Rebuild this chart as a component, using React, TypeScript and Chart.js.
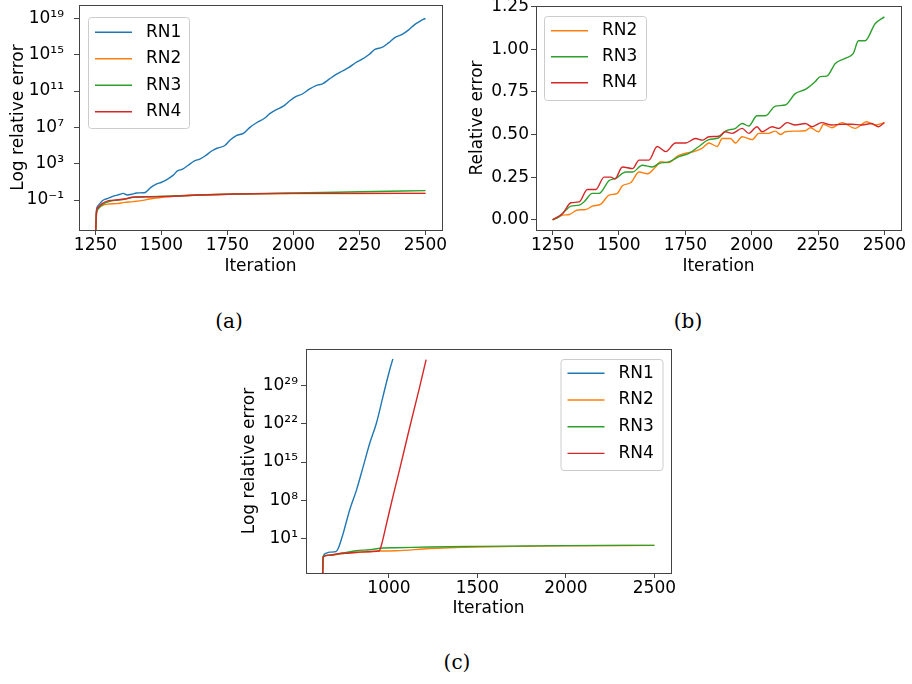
import React, { useEffect, useRef } from 'react';
import { Chart, registerables } from 'chart.js';

Chart.register(...registerables);

const FONT = "'DejaVu Sans', sans-serif";
const SERIES = ['RN1', 'RN2', 'RN3', 'RN4'];
const COLORS = ['#1f77b4', '#ff7f0e', '#2ca02c', '#d62728'];
const X_TITLE = 'Iteration';

// ---------- (a) log relative error, iterations 1250..2500 ----------
const A_X_TICKS = [1250, 1500, 1750, 2000, 2250, 2500];
const A_Y_TICKS = [1e-1, 1e3, 1e7, 1e11, 1e15, 1e19];
const A_Y_TICK_LABELS = ['10⁻¹', '10³', '10⁷', '10¹¹', '10¹⁵', '10¹⁹'];
const A_RN1_X = [1250, 1253, 1258, 1266, 1280, 1300, 1320, 1340, 1355, 1370, 1390, 1405, 1435, 1460, 1480, 1500, 1520, 1545, 1560, 1580, 1600, 1625, 1645, 1665, 1690, 1710, 1740, 1760, 1785, 1810, 1835, 1860, 1890, 1910, 1935, 1960, 1985, 2010, 2035, 2060, 2085, 2110, 2135, 2160, 2185, 2210, 2235, 2260, 2285, 2310, 2335, 2360, 2385, 2410, 2435, 2460, 2480, 2500];
const A_RN1_Y = [1e-5, 5e-3, 2e-2, 4e-2, 0.1, 0.16, 0.28, 0.4, 0.54, 0.36, 0.45, 0.6, 0.63, 2.5, 5.5, 9, 18, 55, 160, 250, 630, 2000, 3200, 7000, 2.5e4, 5e4, 1e5, 4e5, 1.3e6, 2.2e6, 1e7, 3.2e7, 1e8, 3.2e8, 9e8, 2e9, 8e9, 2.5e10, 5e10, 1.6e11, 4e11, 6.3e11, 2e12, 6.3e12, 1.6e13, 4e13, 1.3e14, 3.2e14, 1e15, 4e15, 6.3e15, 2e16, 8e16, 1.6e17, 5e17, 2.2e18, 5e18, 1e19];
const A_RN2_X = [1250, 1254, 1260, 1275, 1300, 1330, 1360, 1392, 1430, 1455, 1490, 1518, 1560, 1600, 1700, 1800, 2000, 2250, 2500];
const A_RN2_Y = [1e-5, 5e-3, 1.3e-2, 2.5e-2, 3.6e-2, 4e-2, 5.5e-2, 6.6e-2, 9e-2, 0.13, 0.18, 0.23, 0.3, 0.33, 0.4, 0.45, 0.5, 0.52, 0.54];
const A_RN3_X = [1250, 1254, 1260, 1275, 1300, 1330, 1360, 1392, 1455, 1518, 1644, 1800, 2000, 2250, 2500];
const A_RN3_Y = [1e-5, 3e-3, 1e-2, 3e-2, 6.6e-2, 0.1, 0.12, 0.2, 0.23, 0.26, 0.35, 0.46, 0.6, 0.8, 1.07];
const A_RN4_X = [1250, 1254, 1260, 1275, 1300, 1330, 1360, 1392, 1455, 1518, 1644, 1770, 2000, 2500];
const A_RN4_Y = [1e-5, 6e-3, 1.6e-2, 4e-2, 8.5e-2, 0.1, 0.13, 0.2, 0.23, 0.24, 0.35, 0.46, 0.54, 0.54];

// ---------- (b) relative error, iterations 1250..2500 ----------
const B_X_TICKS = [1250, 1500, 1750, 2000, 2250, 2500];
const B_Y_TICKS = [0, 0.25, 0.5, 0.75, 1.0, 1.25];
const B_RN2_X = [1250, 1288, 1313, 1344, 1375, 1400, 1432, 1463, 1494, 1513, 1544, 1576, 1607, 1638, 1657, 1688, 1720, 1751, 1782, 1814, 1839, 1870, 1889, 1920, 1939, 1964, 2002, 2027, 2064, 2089, 2108, 2127, 2164, 2202, 2221, 2252, 2271, 2302, 2340, 2390, 2433, 2465, 2500];
const B_RN2_Y = [0, 0.027, 0.031, 0.057, 0.06, 0.08, 0.092, 0.145, 0.155, 0.2, 0.217, 0.28, 0.27, 0.31, 0.34, 0.335, 0.374, 0.39, 0.4, 0.42, 0.45, 0.43, 0.477, 0.477, 0.45, 0.487, 0.47, 0.507, 0.507, 0.52, 0.5, 0.516, 0.52, 0.522, 0.54, 0.516, 0.56, 0.54, 0.57, 0.536, 0.575, 0.556, 0.57];
const B_RN3_X = [1250, 1275, 1300, 1319, 1350, 1369, 1400, 1425, 1463, 1488, 1526, 1551, 1588, 1626, 1651, 1688, 1726, 1764, 1801, 1839, 1876, 1901, 1939, 1964, 1989, 2020, 2052, 2089, 2127, 2164, 2202, 2239, 2258, 2283, 2315, 2352, 2383, 2402, 2427, 2465, 2500];
const B_RN3_Y = [0, 0.018, 0.057, 0.08, 0.086, 0.106, 0.155, 0.155, 0.23, 0.243, 0.28, 0.28, 0.32, 0.31, 0.33, 0.34, 0.37, 0.39, 0.43, 0.47, 0.48, 0.52, 0.536, 0.565, 0.55, 0.61, 0.61, 0.667, 0.673, 0.74, 0.765, 0.81, 0.84, 0.843, 0.917, 0.947, 0.976, 1.05, 1.05, 1.15, 1.19];
const B_RN4_X = [1250, 1288, 1319, 1350, 1381, 1413, 1444, 1469, 1485, 1513, 1551, 1576, 1613, 1644, 1676, 1713, 1751, 1789, 1814, 1839, 1876, 1901, 1926, 1964, 1989, 2020, 2039, 2077, 2102, 2133, 2164, 2202, 2227, 2264, 2302, 2340, 2377, 2415, 2452, 2477, 2500];
const B_RN4_Y = [0, 0.037, 0.1, 0.105, 0.178, 0.178, 0.25, 0.25, 0.24, 0.31, 0.3, 0.35, 0.35, 0.43, 0.4, 0.45, 0.45, 0.477, 0.467, 0.487, 0.49, 0.516, 0.507, 0.536, 0.507, 0.546, 0.516, 0.546, 0.536, 0.57, 0.556, 0.565, 0.546, 0.57, 0.556, 0.56, 0.56, 0.556, 0.565, 0.546, 0.57];

// ---------- (c) log relative error, iterations 625..2500 ----------
const C_X_TICKS = [1000, 1500, 2000, 2500];
const C_Y_TICKS = [1e1, 1e8, 1e15, 1e22, 1e29];
const C_Y_TICK_LABELS = ['10¹', '10⁸', '10¹⁵', '10²²', '10²⁹'];
const C_RN1_X = [625, 628, 640, 666, 700, 713, 741, 778, 816, 854, 891, 929, 966, 985, 1004, 1022];
const C_RN1_Y = [1e-6, 3e-3, 1.6e-2, 2.8e-2, 3.5e-2, 0.13, 72, 1.6e6, 6.3e9, 1.3e14, 2.5e18, 1.3e22, 1e27, 3.2e29, 8e31, 8e33];
const C_RN2_X = [625, 628, 666, 741, 816, 891, 944, 1041, 1229, 1500, 1800, 2000, 2500];
const C_RN2_Y = [1e-6, 4e-3, 8e-3, 1.6e-2, 2.5e-2, 3.5e-2, 4.5e-2, 5e-2, 0.13, 0.25, 0.35, 0.42, 0.5];
const C_RN3_X = [625, 628, 666, 741, 816, 891, 966, 1041, 1229, 1500, 2000, 2500];
const C_RN3_Y = [1e-6, 5e-3, 8e-3, 2e-2, 5e-2, 8e-2, 0.16, 0.18, 0.25, 0.32, 0.45, 0.5];
const C_RN4_X = [625, 628, 666, 703, 778, 854, 944, 957, 985, 1022, 1060, 1116, 1173, 1210];
const C_RN4_Y = [1e-6, 4e-3, 8e-3, 1.3e-2, 2e-2, 3.2e-2, 4.5e-2, 0.5, 3.2e3, 4e8, 4e13, 1.6e21, 5e28, 6.3e33];

const pts = (xs: number[], ys: number[]) => xs.map((x, i) => ({ x, y: ys[i] }));

function makeDatasets(series: { label: string; color: string; x: number[]; y: number[] }[]) {
  const n = series.length;
  return series.map((s, i) => ({
    label: s.label,
    data: pts(s.x, s.y),
    borderColor: s.color,
    backgroundColor: s.color,
    borderWidth: 1.4,
    pointRadius: 0,
    fill: false,
    cubicInterpolationMode: 'monotone' as const,
    order: n - i,
  }));
}

type LegendBox = { left: number; top: number; width: number; height: number; firstRow: number; rowGap: number };

function framePlugin(lg: LegendBox) {
  return {
    id: 'frameAndLegend',
    afterDatasetsDraw(chart: any) {
      const { ctx, chartArea: a } = chart;
      ctx.save();
      ctx.strokeStyle = '#444';
      ctx.lineWidth = 1;
      ctx.strokeRect(Math.round(a.left) + 0.5, Math.round(a.top) + 0.5, Math.round(a.right - a.left), Math.round(a.bottom - a.top));
      ctx.restore();
    },
    afterDraw(chart: any) {
      const ctx = chart.ctx;
      ctx.save();
      ctx.beginPath();
      ctx.roundRect(lg.left + 0.5, lg.top + 0.5, lg.width, lg.height, 3);
      ctx.fillStyle = 'rgba(255,255,255,0.8)';
      ctx.fill();
      ctx.strokeStyle = '#cccccc';
      ctx.lineWidth = 1;
      ctx.stroke();
      ctx.font = `17px ${FONT}`;
      ctx.textBaseline = 'middle';
      ctx.textAlign = 'left';
      chart.data.datasets.forEach((ds: any, i: number) => {
        const y = lg.top + lg.firstRow + i * lg.rowGap;
        ctx.strokeStyle = ds.borderColor;
        ctx.lineWidth = ds.borderWidth;
        ctx.beginPath();
        ctx.moveTo(lg.left + 7, y);
        ctx.lineTo(lg.left + 44, y);
        ctx.stroke();
        ctx.fillStyle = '#000';
        ctx.fillText(ds.label, lg.left + 58, y);
      });
      ctx.restore();
    },
  };
}

type PanelSpec = {
  width: number;
  height: number;
  area: { left: number; top: number; right: number; bottom: number };
  datasets: any[];
  xMin: number;
  xMax: number;
  xTicks: number[];
  yType: 'linear' | 'logarithmic';
  yMin: number;
  yMax: number;
  yTicks: number[];
  yLabel: (v: number, i: number) => string;
  yTitle: string;
  yTitlePad: number;
  yTickPad: number;
  xTitlePad: number;
  legend: LegendBox;
};

function buildConfig(p: PanelSpec): any {
  const tickFont = { family: FONT, size: 17 };
  const grid = { display: true, drawOnChartArea: false, drawTicks: true, tickLength: 5, tickColor: '#444', tickWidth: 1 };
  return {
    type: 'line',
    data: { datasets: p.datasets },
    options: {
      responsive: false,
      animation: false,
      events: [],
      layout: { padding: { left: 0, top: p.area.top, right: p.width - p.area.right, bottom: 0 } },
      plugins: { legend: { display: false }, tooltip: { enabled: false }, title: { display: false } },
      scales: {
        x: {
          type: 'linear',
          position: 'bottom',
          min: p.xMin,
          max: p.xMax,
          afterBuildTicks: (s: any) => { s.ticks = p.xTicks.map((v) => ({ value: v })); },
          afterFit: (s: any) => { s.height = p.height - p.area.bottom; s.paddingLeft = 0; s.paddingRight = 0; },
          ticks: { autoSkip: false, maxRotation: 0, minRotation: 0, padding: 0, color: '#000', font: tickFont, callback: (v: number) => String(v) },
          grid,
          border: { display: false },
          title: { display: true, text: X_TITLE, color: '#000', font: tickFont, padding: { top: 0, bottom: p.xTitlePad } },
        },
        y: {
          type: p.yType,
          position: 'left',
          min: p.yMin,
          max: p.yMax,
          afterBuildTicks: (s: any) => { s.ticks = p.yTicks.map((v) => ({ value: v })); },
          afterFit: (s: any) => { s.width = p.area.left; s.paddingTop = 0; s.paddingBottom = 0; },
          ticks: { autoSkip: false, padding: p.yTickPad, color: '#000', font: tickFont, callback: (v: number, i: number) => p.yLabel(v, i) },
          grid,
          border: { display: false },
          title: { display: true, text: p.yTitle, color: '#000', font: tickFont, padding: { top: p.yTitlePad, bottom: 0 } },
        },
      },
    },
    plugins: [framePlugin(p.legend)],
  };
}

function Panel({ spec, left, top }: { spec: PanelSpec; left: number; top: number }) {
  const ref = useRef<HTMLCanvasElement | null>(null);
  useEffect(() => {
    if (!ref.current) return;
    const chart = new Chart(ref.current, buildConfig(spec));
    return () => chart.destroy();
  }, []);
  return (
    <canvas
      ref={ref}
      width={spec.width}
      height={spec.height}
      style={{ position: 'absolute', left, top, width: spec.width, height: spec.height }}
    />
  );
}

const specA: PanelSpec = {
  width: 455,
  height: 290,
  area: { left: 79, top: 5, right: 442, bottom: 230 },
  datasets: makeDatasets([
    { label: SERIES[0], color: COLORS[0], x: A_RN1_X, y: A_RN1_Y },
    { label: SERIES[1], color: COLORS[1], x: A_RN2_X, y: A_RN2_Y },
    { label: SERIES[2], color: COLORS[2], x: A_RN3_X, y: A_RN3_Y },
    { label: SERIES[3], color: COLORS[3], x: A_RN4_X, y: A_RN4_Y },
  ]),
  xMin: 1187.5,
  xMax: 2562.5,
  xTicks: A_X_TICKS,
  yType: 'logarithmic',
  yMin: 5e-5,
  yMax: 2.95e20,
  yTicks: A_Y_TICKS,
  yLabel: (_v, i) => A_Y_TICK_LABELS[i],
  yTitle: 'Log relative error',
  yTitlePad: 8,
  yTickPad: 10,
  xTitlePad: 13,
  legend: { left: 88, top: 17, width: 101, height: 111, firstRow: 15.3, rowGap: 26.5 },
};

const specB: PanelSpec = {
  width: 457,
  height: 290,
  area: { left: 81, top: 6, right: 446, bottom: 230 },
  datasets: makeDatasets([
    { label: SERIES[1], color: COLORS[1], x: B_RN2_X, y: B_RN2_Y },
    { label: SERIES[2], color: COLORS[2], x: B_RN3_X, y: B_RN3_Y },
    { label: SERIES[3], color: COLORS[3], x: B_RN4_X, y: B_RN4_Y },
  ]),
  xMin: 1187.5,
  xMax: 2562.5,
  xTicks: B_X_TICKS,
  yType: 'linear',
  yMin: -0.06,
  yMax: 1.254,
  yTicks: B_Y_TICKS,
  yLabel: (v) => v.toFixed(2),
  yTitle: 'Relative error',
  yTitlePad: 12,
  yTickPad: 2,
  xTitlePad: 13,
  legend: { left: 89, top: 16, width: 102, height: 84, firstRow: 14.7, rowGap: 26 },
};

const specC: PanelSpec = {
  width: 460,
  height: 290,
  area: { left: 76, top: 9, right: 441, bottom: 233 },
  datasets: makeDatasets([
    { label: SERIES[0], color: COLORS[0], x: C_RN1_X, y: C_RN1_Y },
    { label: SERIES[1], color: COLORS[1], x: C_RN2_X, y: C_RN2_Y },
    { label: SERIES[2], color: COLORS[2], x: C_RN3_X, y: C_RN3_Y },
    { label: SERIES[3], color: COLORS[3], x: C_RN4_X, y: C_RN4_Y },
  ]),
  xMin: 531.25,
  xMax: 2593.75,
  xTicks: C_X_TICKS,
  yType: 'logarithmic',
  yMin: 4.2e-6,
  yMax: 5.6e35,
  yTicks: C_Y_TICKS,
  yLabel: (_v, i) => C_Y_TICK_LABELS[i],
  yTitle: 'Log relative error',
  yTitlePad: 9,
  yTickPad: 3,
  xTitlePad: 11,
  legend: { left: 330.5, top: 19, width: 102, height: 111, firstRow: 14.3, rowGap: 26.7 },
};

const captionStyle = (x: number, y: number): React.CSSProperties => ({
  position: 'absolute',
  left: x,
  top: y,
  transform: 'translate(-50%, -50%)',
  fontFamily: "'DejaVu Serif', serif",
  fontSize: 20,
  color: '#000',
  whiteSpace: 'nowrap',
  lineHeight: 1,
});

export default function App() {
  return (
    <div style={{ position: 'absolute', left: 0, top: 0, width: 912, height: 684, background: '#fff', overflow: 'hidden' }}>
      <Panel spec={specA} left={0} top={0} />
      <Panel spec={specB} left={455} top={0} />
      <Panel spec={specC} left={230} top={340} />
      <div style={captionStyle(229, 321)}>(a)</div>
      <div style={captionStyle(688, 321)}>(b)</div>
      <div style={captionStyle(457, 662)}>(c)</div>
    </div>
  );
}
